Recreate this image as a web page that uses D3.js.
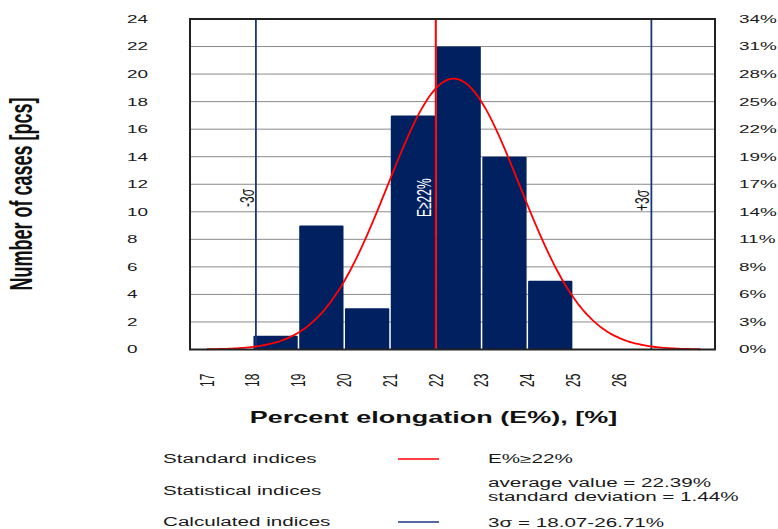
<!DOCTYPE html>
<html>
<head>
<meta charset="utf-8">
<script src="https://cdn.jsdelivr.net/npm/d3@7"></script>
<style>
  html, body { margin: 0; padding: 0; background: #ffffff; }
  svg { display: block; }
</style>
</head>
<body>
<svg id="chart" width="778" height="529"></svg>
<script>
// Histogram of percent elongation with a fitted normal curve
const binStarts = [18, 19, 20, 21, 22, 23, 24];
const binCounts = [1, 9, 3, 17, 22, 14, 5];
const binWidth = 1;
const xTickValues = [17, 18, 19, 20, 21, 22, 23, 24, 25, 26];
const countTickValues = [0, 2, 4, 6, 8, 10, 12, 14, 16, 18, 20, 22, 24];
const percentTickLabels = ["0%", "3%", "6%", "8%", "11%", "14%", "17%", "19%", "22%", "25%", "28%", "31%", "34%"];
const standardLimit = 22;
const meanValue = 22.39;
const stdDev = 1.44;
const sigmaLow = 18.07;
const sigmaHigh = 26.71;
const curveRange = [17, 27.78];

const legendRows = [
  { name: "Standard indices", lines: ["E%\u226522%"], swatch: "#ff0000" },
  { name: "Statistical indices", lines: ["average value = 22.39%", "standard deviation = 1.44%"], swatch: null },
  { name: "Calculated indices", lines: ["3\u03c3 = 18.07-26.71%"], swatch: "#1c3580" }
];

const svg = d3.select("#chart");
const FONT = "'Liberation Sans', Arial, sans-serif";
const SX = 1.72; // horizontal text stretch

const plot = { left: 190, right: 715, top: 19, bottom: 349.5 };
const x = d3.scaleLinear().domain([16.63, 28.1]).range([plot.left, plot.right]);
const y = d3.scaleLinear().domain([0, 24]).range([plot.bottom, plot.top]);

function label(px, py, str, opt) {
  const o = Object.assign({ size: 12, weight: "normal", anchor: "start", rotate: 0, baseline: "auto", fill: "#1a1a1a" }, opt);
  return svg.append("text")
    .attr("transform", `translate(${px},${py}) scale(${SX},1) rotate(${o.rotate})`)
    .attr("font-family", FONT)
    .attr("font-size", o.size)
    .attr("font-weight", o.weight)
    .attr("text-anchor", o.anchor)
    .attr("dominant-baseline", o.baseline)
    .attr("fill", o.fill)
    .text(str);
}

// horizontal gridlines
svg.append("g")
  .selectAll("line")
  .data(countTickValues.filter(v => v > 0 && v < 24))
  .join("line")
  .attr("x1", plot.left).attr("x2", plot.right)
  .attr("y1", d => y(d)).attr("y2", d => y(d))
  .attr("stroke", "#8a8a8a").attr("stroke-width", 1);

// histogram bars
svg.append("g")
  .selectAll("rect")
  .data(binStarts.map((s, i) => ({ s, c: binCounts[i] })))
  .join("rect")
  .attr("x", d => x(d.s) + 0.75)
  .attr("width", d => x(d.s + binWidth) - x(d.s) - 1.5)
  .attr("y", d => y(d.c))
  .attr("height", d => y(0) - y(d.c))
  .attr("rx", 1)
  .attr("fill", "#002060");

// ±3σ limits
svg.append("g")
  .selectAll("line")
  .data([sigmaLow, sigmaHigh])
  .join("line")
  .attr("x1", d => x(d)).attr("x2", d => x(d))
  .attr("y1", plot.top).attr("y2", plot.bottom)
  .attr("stroke", "#1c3580").attr("stroke-width", 1.8);

// standard limit
svg.append("line")
  .attr("x1", x(standardLimit)).attr("x2", x(standardLimit))
  .attr("y1", plot.top).attr("y2", plot.bottom)
  .attr("stroke", "#ff0000").attr("stroke-width", 2);

// fitted normal curve, scaled to the number of cases
const total = d3.sum(binCounts);
const normal = v => total * binWidth / (stdDev * Math.sqrt(2 * Math.PI)) *
  Math.exp(-0.5 * Math.pow((v - meanValue) / stdDev, 2));
const curveXs = d3.range(0, 201).map(i => curveRange[0] + (curveRange[1] - curveRange[0]) * i / 200);
svg.append("path")
  .datum(curveXs)
  .attr("d", d3.line().x(v => x(v)).y(v => y(normal(v))).curve(d3.curveBasis))
  .attr("fill", "none")
  .attr("stroke", "#ff0000")
  .attr("stroke-width", 1.8);

// plot frame
svg.append("rect")
  .attr("x", plot.left).attr("y", plot.top)
  .attr("width", plot.right - plot.left).attr("height", plot.bottom - plot.top)
  .attr("fill", "none").attr("stroke", "#222").attr("stroke-width", 2);

// annotations on limit lines
label(x(sigmaLow) - 9, 207, "-3\u03c3", { rotate: -90, baseline: "central" });
label(x(sigmaHigh) - 9, 211, "+3\u03c3", { rotate: -90, baseline: "central" });
label(x(standardLimit) - 12, 217, "E\u226522%", { rotate: -90, baseline: "central", fill: "#ffffff" });

// left count axis
countTickValues.forEach(v => label(127, y(v), String(v), { size: 11, baseline: "central" }));
// right percent axis
countTickValues.forEach((v, i) => label(739, y(v), percentTickLabels[i], { size: 11, baseline: "central" }));
// x tick labels
xTickValues.forEach(v => label(x(v), 387, String(v), { size: 12, rotate: -90, baseline: "central" }));

// axis titles
label(433.5, 423, "Percent elongation (E%), [%]", { size: 15.7, weight: "bold", anchor: "middle", fill: "#111" });
label(21, 194, "Number of cases [pcs]", { size: 18, weight: "bold", anchor: "middle", rotate: -90, baseline: "central", fill: "#111" });

// legend
const rowY = [463, 495, 526];
legendRows.forEach((r, i) => {
  label(163, rowY[i], r.name, { size: 12 });
  if (r.swatch) {
    svg.append("line")
      .attr("x1", 398).attr("x2", 439)
      .attr("y1", rowY[i] - 4).attr("y2", rowY[i] - 4)
      .attr("stroke", r.swatch).attr("stroke-width", 1.5);
  }
});
label(488, 463, legendRows[0].lines[0], { size: 12 });
label(488, 486.5, legendRows[1].lines[0], { size: 12 });
label(488, 501, legendRows[1].lines[1], { size: 12 });
label(488, 527, legendRows[2].lines[0], { size: 12 });
</script>
</body>
</html>
